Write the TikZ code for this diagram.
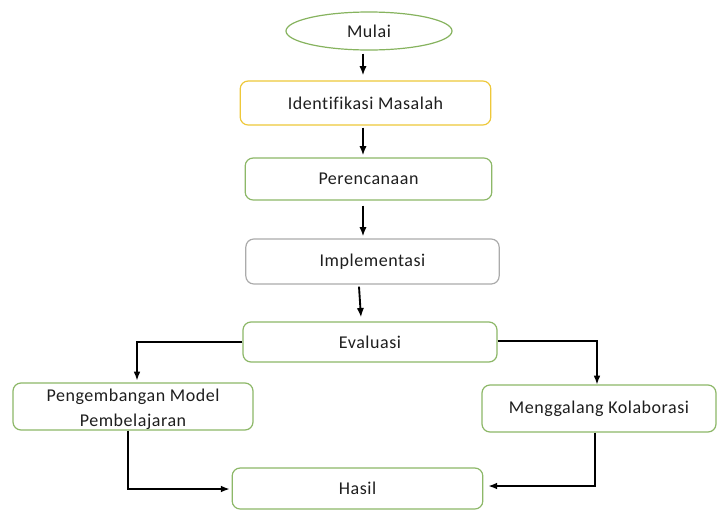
\documentclass[tikz,border=0pt]{standalone}
\usepackage{fontspec}
\setmainfont{Carlito}[LetterSpace=3,Ligatures={NoCommon}]
\usetikzlibrary{arrows.meta,shapes.geometric,calc}
\definecolor{boxgreen}{HTML}{8DB868}
\definecolor{ellgreen}{HTML}{86B35E}
\definecolor{boxyellow}{HTML}{EEC83A}
\definecolor{boxgray}{HTML}{ABABAB}
\definecolor{txt}{HTML}{1E1E1E}
\begin{document}
\begin{tikzpicture}[x=0.75pt,y=-0.75pt,
  proc/.style={draw=boxgreen,line width=0.9pt,rounded corners=6pt,fill=white,
    inner sep=0pt,font=\fontsize{13.5}{19}\selectfont,text=txt,align=center},
  startnode/.style={draw=ellgreen,line width=0.9pt,ellipse,inner sep=0pt,
    minimum width=124.5pt,minimum height=28.5pt,font=\fontsize{13.5}{16}\selectfont,text=txt},
  arr/.style={line width=1.4pt,-{Latex[length=7pt,width=5.5pt]}},
  conn/.style={line width=1pt,-{Latex[length=6.5pt,width=5pt]}}]
\useasboundingbox (0,0) rectangle (718,511);
\fill[white] (0,0) rectangle (718,511);
\node[startnode] (mulai) at (369,31) {Mulai};
\node[proc,draw=boxyellow,minimum width=188pt,minimum height=33pt] (ident) at (365.5,103) {Identifikasi Masalah};
\node[proc,minimum width=185pt,minimum height=31.5pt] (plan) at (368.5,179) {Perencanaan};
\node[proc,draw=boxgray,minimum width=190pt,minimum height=33.75pt] (impl) at (372.5,261.5) {Implementasi};
\node[proc,minimum width=190.5pt,minimum height=30pt] (eval) at (370,342) {Evaluasi};
\node[proc,minimum width=180pt,minimum height=35.25pt] (peng) at (133,406.5) {};
\node[font=\fontsize{13.5}{19}\selectfont,text=txt,align=center,inner sep=0pt] (pengtext) at ($(peng.center)+(0,2.5)$) {Pengembangan Model\\Pembelajaran};
\node[proc,minimum width=175.5pt,minimum height=35.25pt] (meng) at (599,408.5) {Menggalang Kolaborasi};
\node[proc,minimum width=188pt,minimum height=30.75pt] (hasil) at (357.5,488.5) {Hasil};
% main vertical arrows
\draw[arr] ($(mulai.south)+(-6,3)$) -- ($(ident.north)+(-2.5,-5)$);
\draw[arr] ($(ident.south)+(-2.5,2)$) -- ($(plan.north)+(-5.5,-2)$);
\draw[arr] ($(plan.south)+(-5.5,5)$) -- ($(impl.north)+(-9.5,-2)$);
\draw[arr] ($(impl.south)+(-13.5,2)$) -- ($(eval.north)+(-9,-4)$);
% branches
\coordinate (lc) at (137,342);
\coordinate (rc) at (597,341);
\draw[conn] (eval.west) -- (lc) -- ($(peng.north)+(4,-2)$);
\draw[conn] ($(eval.east)+(0,-1)$) -- (rc) -- ($(meng.north)+(-2,0)$);
\coordinate (lb) at (128,489);
\coordinate (rb) at (595,486);
\draw[conn] ($(peng.south)+(-5,0)$) -- (lb) -- ($(hasil.west)+(-2,0.5)$);
\draw[conn] ($(meng.south)+(-4,0)$) -- (rb) -- ($(hasil.east)+(5,-2.5)$);
\end{tikzpicture}
\end{document}
